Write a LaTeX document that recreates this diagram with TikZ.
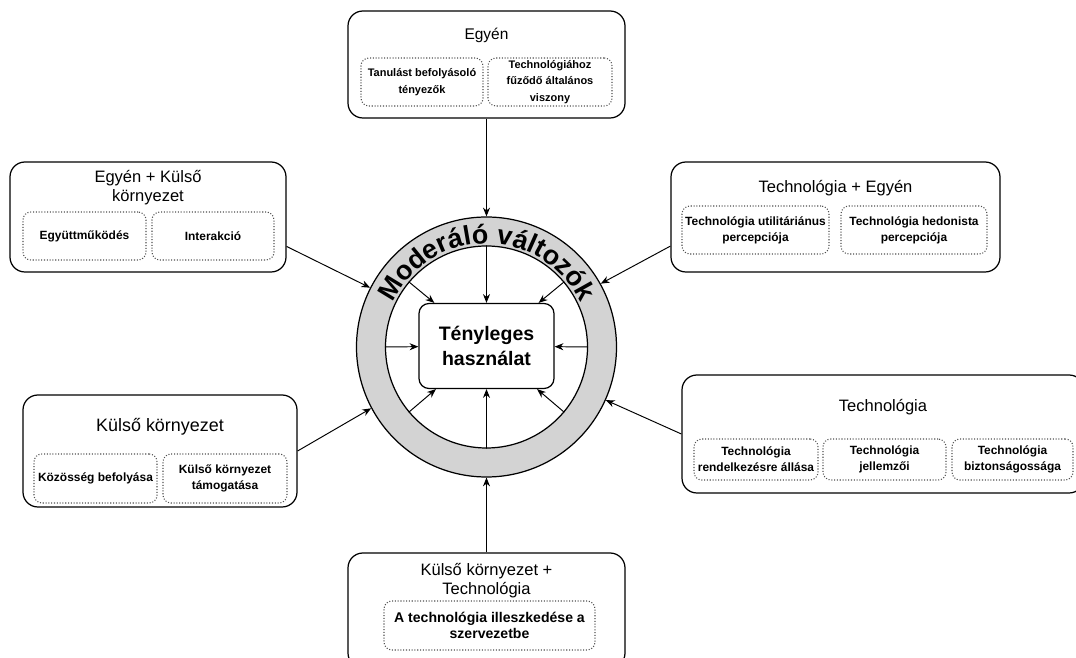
\documentclass[tikz,border=0pt]{standalone}
\usepackage{fontspec}
\setmainfont{Liberation Sans}
\usetikzlibrary{arrows.meta,decorations.text}
\definecolor{ringgray}{RGB}{211,211,211}
\definecolor{dotgray}{RGB}{80,80,80}
\begin{document}
\begin{tikzpicture}[scale=0.2]
		\tikzstyle{every node}+=[inner sep=0pt]
		\tikzstyle{group}=[draw=black, line width=0.7pt, rounded corners=8.5pt]
		\tikzstyle{factor}=[draw=dotgray, densely dotted, line width=0.6pt, rounded corners=4.5pt, align=center, font=\bfseries\fontsize{6.8}{9.1}\selectfont]
		\tikzstyle{title}=[align=center, font=\fontsize{9.4}{10.8}\selectfont]
		\tikzstyle{link}=[-{Stealth[length=5pt,width=4pt]}, line width=0.55pt]
		\useasboundingbox (0,0) rectangle (107.6,-65.8);
		% Egyén
		\draw (48.65,-6.45) node[group, minimum width=5.54cm, minimum height=2.14cm] (egyen) {};
		\draw (48.65,-3.5) node[title, font=\fontsize{8.8}{10.8}\selectfont] {Egyén};
		\draw (42.2,-8.2) node[factor, minimum width=2.44cm, minimum height=0.96cm, font=\bfseries\fontsize{6.25}{9.4}\selectfont] (tanulas) {Tanulást befolyásoló\\tényezők};
		\draw (55,-8.2) node[factor, minimum width=2.48cm, minimum height=0.96cm, font=\bfseries\fontsize{6.25}{9.4}\selectfont] (viszony) {Technológiához\\fűződő általános\\viszony};
		% Egyén + Külső környezet
		\draw (14.8,-21.7) node[group, minimum width=5.52cm, minimum height=2.2cm] (egykul) {};
		\draw (14.8,-18.8) node[title] {Egyén + Külső\\környezet};
		\draw (8.45,-23.6) node[factor, minimum width=2.46cm, minimum height=0.96cm] (egyutt) {Együttműködés};
		\draw (21.3,-23.6) node[factor, minimum width=2.44cm, minimum height=0.96cm] (interakcio) {Interakció};
		% Technológia + Egyén
		\draw (83.55,-21.7) node[group, minimum width=6.58cm, minimum height=2.2cm] (techegy) {};
		\draw (83.55,-18.8) node[title] {Technológia + Egyén};
		\draw (75.55,-23) node[factor, minimum width=2.94cm, minimum height=0.96cm] (utilitar) {Technológia utilitáriánus\\percepciója};
		\draw (91.4,-23) node[factor, minimum width=2.92cm, minimum height=0.96cm] (hedonist) {Technológia hedonista\\percepciója};
		% Külső környezet
		\draw (16,-45.1) node[group, minimum width=5.48cm, minimum height=2.24cm] (kulso) {};
		\draw (16,-42.7) node[title, font=\fontsize{10.2}{12}\selectfont] {Külső környezet};
		\draw (9.55,-47.85) node[factor, minimum width=2.46cm, minimum height=0.98cm] (kozosseg) {Közösség befolyása};
		\draw (22.5,-47.85) node[factor, minimum width=2.48cm, minimum height=0.98cm] (tamogatas) {Külső környezet\\támogatása};
		% Technológia
		\draw (88.3,-43.4) node[group, minimum width=8.04cm, minimum height=2.36cm] (tech) {};
		\draw (88.3,-40.7) node[title] {Technológia};
		\draw (75.6,-45.95) node[factor, minimum width=2.48cm, minimum height=0.82cm] (rendelk) {Technológia\\rendelkezésre állása};
		\draw (88.45,-45.95) node[factor, minimum width=2.46cm, minimum height=0.82cm] (jellemzo) {Technológia\\jellemzői};
		\draw (101.25,-45.95) node[factor, minimum width=2.42cm, minimum height=0.82cm] (bizton) {Technológia\\biztonságossága};
		% Külső környezet + Technológia
		\draw (48.65,-61.05) node[group, minimum width=5.54cm, minimum height=2.3cm] (kultech) {};
		\draw (48.65,-58.1) node[title] {Külső környezet +\\Technológia};
		\draw (48.95,-62.55) node[factor, minimum width=4.22cm, minimum height=0.98cm, font=\bfseries\fontsize{8}{9.2}\selectfont] (illesz) {A technológia illeszkedése a\\szervezetbe};
		% moderáló gyűrű
		\draw (48.65,-34.7) node[circle, draw, line width=0.7pt, fill=ringgray, minimum size=5.2cm] (ring) {};
		\draw (48.65,-34.7) node[circle, draw, line width=0.7pt, fill=white, minimum size=4.04cm] (hole) {};
		\path[decorate, decoration={text along path, text align=center, text={|\bfseries\fontsize{15.3}{18}\selectfont|Moderáló változók}}] (48.65,-34.7) ++(180:10.35) arc[start angle=180, end angle=0, radius=10.35];
		\draw (48.65,-34.6) node[draw, line width=0.7pt, rounded corners=5.7pt, fill=white, minimum width=2.7cm, minimum height=1.7cm, align=center, font=\bfseries\fontsize{11.1}{14.2}\selectfont] (use) {Tényleges\\használat};
		\foreach \a in {0,40,90,140,180,220,270,320}
			\draw [link] (hole.\a) -- (use);
		% hatások
		\draw [link] (egyen.south) -- (ring.north);
		\draw [link] (egykul.-12) -- (ring.153);
		\draw [link] (techegy.190) -- (ring.29);
		\draw [link] (kulso.east) -- (ring.208.5);
		\draw [link] (tech.west) -- (ring.-24);
		\draw [link] (kultech.north) -- (ring.south);
	\end{tikzpicture}
\end{document}
